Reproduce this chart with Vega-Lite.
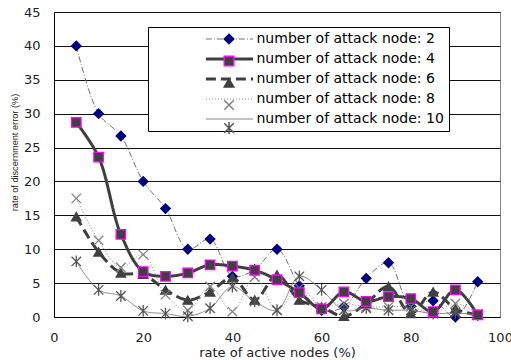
{
  "$schema": "https://vega.github.io/schema/vega-lite/v6.json",
  "width": 446,
  "height": 305,
  "autosize": {"type": "none"},
  "padding": {"left": 54, "top": 12, "right": 11, "bottom": 43},
  "background": "white",
  "config": {"view": {"stroke": "#888888", "strokeWidth": 1}, "font": "DejaVu Sans"},
  "data": {"values": [
    {"x":5,"y":40,"n":2,"series":"number of attack node: 2"},
    {"x":10,"y":30,"n":2,"series":"number of attack node: 2"},
    {"x":15,"y":26.7,"n":2,"series":"number of attack node: 2"},
    {"x":20,"y":20,"n":2,"series":"number of attack node: 2"},
    {"x":25,"y":16,"n":2,"series":"number of attack node: 2"},
    {"x":30,"y":10,"n":2,"series":"number of attack node: 2"},
    {"x":35,"y":11.5,"n":2,"series":"number of attack node: 2"},
    {"x":40,"y":6,"n":2,"series":"number of attack node: 2"},
    {"x":45,"y":7,"n":2,"series":"number of attack node: 2"},
    {"x":50,"y":10,"n":2,"series":"number of attack node: 2"},
    {"x":55,"y":4.6,"n":2,"series":"number of attack node: 2"},
    {"x":60,"y":1.0,"n":2,"series":"number of attack node: 2"},
    {"x":65,"y":1.5,"n":2,"series":"number of attack node: 2"},
    {"x":70,"y":5.7,"n":2,"series":"number of attack node: 2"},
    {"x":75,"y":8,"n":2,"series":"number of attack node: 2"},
    {"x":80,"y":1.6,"n":2,"series":"number of attack node: 2"},
    {"x":85,"y":2.4,"n":2,"series":"number of attack node: 2"},
    {"x":90,"y":0,"n":2,"series":"number of attack node: 2"},
    {"x":95,"y":5.2,"n":2,"series":"number of attack node: 2"},
    {"x":5,"y":14.8,"n":6,"series":"number of attack node: 6"},
    {"x":10,"y":9.6,"n":6,"series":"number of attack node: 6"},
    {"x":15,"y":6.5,"n":6,"series":"number of attack node: 6"},
    {"x":20,"y":6.3,"n":6,"series":"number of attack node: 6"},
    {"x":25,"y":4.0,"n":6,"series":"number of attack node: 6"},
    {"x":30,"y":2.5,"n":6,"series":"number of attack node: 6"},
    {"x":35,"y":3.7,"n":6,"series":"number of attack node: 6"},
    {"x":40,"y":5.8,"n":6,"series":"number of attack node: 6"},
    {"x":45,"y":2.5,"n":6,"series":"number of attack node: 6"},
    {"x":50,"y":6.2,"n":6,"series":"number of attack node: 6"},
    {"x":55,"y":2.5,"n":6,"series":"number of attack node: 6"},
    {"x":60,"y":1.5,"n":6,"series":"number of attack node: 6"},
    {"x":65,"y":0.1,"n":6,"series":"number of attack node: 6"},
    {"x":70,"y":2.0,"n":6,"series":"number of attack node: 6"},
    {"x":75,"y":4.5,"n":6,"series":"number of attack node: 6"},
    {"x":80,"y":0.5,"n":6,"series":"number of attack node: 6"},
    {"x":85,"y":3.7,"n":6,"series":"number of attack node: 6"},
    {"x":90,"y":1.2,"n":6,"series":"number of attack node: 6"},
    {"x":95,"y":0.3,"n":6,"series":"number of attack node: 6"},
    {"x":5,"y":17.5,"n":8,"series":"number of attack node: 8"},
    {"x":10,"y":11.3,"n":8,"series":"number of attack node: 8"},
    {"x":15,"y":7.3,"n":8,"series":"number of attack node: 8"},
    {"x":20,"y":9.2,"n":8,"series":"number of attack node: 8"},
    {"x":25,"y":3.3,"n":8,"series":"number of attack node: 8"},
    {"x":30,"y":1.0,"n":8,"series":"number of attack node: 8"},
    {"x":35,"y":4.5,"n":8,"series":"number of attack node: 8"},
    {"x":40,"y":0.8,"n":8,"series":"number of attack node: 8"},
    {"x":45,"y":5.9,"n":8,"series":"number of attack node: 8"},
    {"x":50,"y":1.0,"n":8,"series":"number of attack node: 8"},
    {"x":55,"y":4.3,"n":8,"series":"number of attack node: 8"},
    {"x":60,"y":1.5,"n":8,"series":"number of attack node: 8"},
    {"x":65,"y":2.0,"n":8,"series":"number of attack node: 8"},
    {"x":70,"y":1.5,"n":8,"series":"number of attack node: 8"},
    {"x":75,"y":1.5,"n":8,"series":"number of attack node: 8"},
    {"x":80,"y":1.5,"n":8,"series":"number of attack node: 8"},
    {"x":85,"y":0.6,"n":8,"series":"number of attack node: 8"},
    {"x":90,"y":2.0,"n":8,"series":"number of attack node: 8"},
    {"x":95,"y":0.5,"n":8,"series":"number of attack node: 8"},
    {"x":5,"y":8.2,"n":10,"series":"number of attack node: 10"},
    {"x":10,"y":4.0,"n":10,"series":"number of attack node: 10"},
    {"x":15,"y":3.1,"n":10,"series":"number of attack node: 10"},
    {"x":20,"y":0.9,"n":10,"series":"number of attack node: 10"},
    {"x":25,"y":0.5,"n":10,"series":"number of attack node: 10"},
    {"x":30,"y":0.1,"n":10,"series":"number of attack node: 10"},
    {"x":35,"y":1.3,"n":10,"series":"number of attack node: 10"},
    {"x":40,"y":4.5,"n":10,"series":"number of attack node: 10"},
    {"x":45,"y":2.3,"n":10,"series":"number of attack node: 10"},
    {"x":50,"y":1.0,"n":10,"series":"number of attack node: 10"},
    {"x":55,"y":6.0,"n":10,"series":"number of attack node: 10"},
    {"x":60,"y":4.0,"n":10,"series":"number of attack node: 10"},
    {"x":65,"y":1.0,"n":10,"series":"number of attack node: 10"},
    {"x":70,"y":1.3,"n":10,"series":"number of attack node: 10"},
    {"x":75,"y":1.0,"n":10,"series":"number of attack node: 10"},
    {"x":80,"y":1.0,"n":10,"series":"number of attack node: 10"},
    {"x":85,"y":0.5,"n":10,"series":"number of attack node: 10"},
    {"x":90,"y":0.6,"n":10,"series":"number of attack node: 10"},
    {"x":95,"y":0.3,"n":10,"series":"number of attack node: 10"},
    {"x":5,"y":28.7,"n":4,"series":"number of attack node: 4"},
    {"x":10,"y":23.6,"n":4,"series":"number of attack node: 4"},
    {"x":15,"y":12.2,"n":4,"series":"number of attack node: 4"},
    {"x":20,"y":6.7,"n":4,"series":"number of attack node: 4"},
    {"x":25,"y":6.0,"n":4,"series":"number of attack node: 4"},
    {"x":30,"y":6.5,"n":4,"series":"number of attack node: 4"},
    {"x":35,"y":7.7,"n":4,"series":"number of attack node: 4"},
    {"x":40,"y":7.5,"n":4,"series":"number of attack node: 4"},
    {"x":45,"y":6.9,"n":4,"series":"number of attack node: 4"},
    {"x":50,"y":5.5,"n":4,"series":"number of attack node: 4"},
    {"x":55,"y":3.6,"n":4,"series":"number of attack node: 4"},
    {"x":60,"y":1.2,"n":4,"series":"number of attack node: 4"},
    {"x":65,"y":3.7,"n":4,"series":"number of attack node: 4"},
    {"x":70,"y":2.3,"n":4,"series":"number of attack node: 4"},
    {"x":75,"y":3.0,"n":4,"series":"number of attack node: 4"},
    {"x":80,"y":2.7,"n":4,"series":"number of attack node: 4"},
    {"x":85,"y":0.8,"n":4,"series":"number of attack node: 4"},
    {"x":90,"y":4.0,"n":4,"series":"number of attack node: 4"},
    {"x":95,"y":0.3,"n":4,"series":"number of attack node: 4"}
  ]},
  "encoding": {
    "x": {"field": "x", "type": "quantitative",
      "scale": {"domain": [0, 100], "nice": false},
      "axis": {"values": [0, 20, 40, 60, 80, 100], "grid": false, "ticks": false, "tickSize": 0,
        "labelPadding": 14, "labelFontSize": 13, "labelFont": "DejaVu Sans", "labelColor": "#222",
        "labelFlush": false, "labelOverlap": false, "domainColor": "#000", "domainWidth": 1,
        "title": "rate of active nodes (%)", "titleFont": "DejaVu Sans", "titleFontSize": 13,
        "titleFontWeight": "normal", "titleColor": "#222", "titlePadding": 2}},
    "y": {"field": "y", "type": "quantitative",
      "scale": {"domain": [0, 45], "nice": false},
      "axis": {"values": [0, 5, 10, 15, 20, 25, 30, 35, 40, 45], "grid": true, "gridColor": "#111",
        "gridWidth": 1, "ticks": false, "tickSize": 0, "labelPadding": 14, "labelFontSize": 13,
        "labelFont": "DejaVu Sans", "labelColor": "#222", "labelFlush": false, "labelOverlap": false,
        "domainColor": "#000", "domainWidth": 1,
        "title": "rate of discernment error (%)", "titleFont": "Liberation Sans", "titleFontSize": 9.2,
        "titleFontWeight": "normal", "titleColor": "#222", "titlePadding": 4, "titleY": 140}}
  },
  "layer": [
    {
      "mark": {"type": "line", "interpolate": "catmull-rom"},
      "encoding": {
        "color": {"field": "series", "type": "nominal",
          "scale": {"domain": ["number of attack node: 2", "number of attack node: 4", "number of attack node: 6", "number of attack node: 8", "number of attack node: 10"],
            "range": ["#707070", "#3f3f3f", "#3f3f3f", "#8a8a8a", "#808080"]},
          "legend": {"orient": "none", "legendX": 94, "legendY": 15, "title": null,
            "symbolType": "M-5.9,0H5.9", "symbolSize": 64, "symbolOffset": 69.5, "labelOffset": 20,
            "labelFont": "DejaVu Sans", "labelFontSize": 14, "labelColor": "#000", "labelLimit": 500,
            "labelExpr": "datum.label + '         '",
            "padding": 5, "rowPadding": 6, "strokeColor": "#000", "fillColor": "#fff", "zindex": 1}},
        "strokeDash": {"field": "series", "type": "nominal",
          "scale": {"domain": ["number of attack node: 2", "number of attack node: 4", "number of attack node: 6", "number of attack node: 8", "number of attack node: 10"],
            "range": [[6, 2, 1, 2], [1, 0], [10, 5], [1, 2], [1, 0]]}},
        "strokeWidth": {"field": "series", "type": "nominal",
          "scale": {"type": "ordinal", "domain": ["number of attack node: 2", "number of attack node: 4", "number of attack node: 6", "number of attack node: 8", "number of attack node: 10"],
            "range": [1, 3, 3, 1, 1]}}
      }
    },
    {
      "mark": {"type": "point", "filled": true, "opacity": 1, "strokeWidth": 1.3, "size": 90},
      "encoding": {
        "shape": {"field": "n", "type": "nominal",
          "scale": {"domain": [2, 4, 6, 8, 10],
            "range": ["diamond", "square", "triangle-up", "M-1,-1L1,1M-1,1L1,-1", "M-1,-1L1,1M-1,1L1,-1M0,-1.25L0,1.25"]},
          "legend": {"orient": "none", "legendX": 94, "legendY": 15, "title": null,
            "symbolSize": 90, "symbolOffset": 69, "labelOffset": 20,
            "labelFont": "DejaVu Sans", "labelFontSize": 14, "labelOpacity": 0, "labelLimit": 500,
            "labelExpr": "' '",
            "padding": 5, "rowPadding": 6, "zindex": 2}},
        "fill": {"field": "n", "type": "nominal",
          "scale": {"domain": [2, 4, 6, 8, 10], "range": ["#000080", "#404040", "#404040", "transparent", "transparent"]}},
        "stroke": {"field": "n", "type": "nominal",
          "scale": {"domain": [2, 4, 6, 8, 10], "range": ["#000080", "#ff00ff", "#404040", "#808080", "#555555"]}}
      }
    }
  ]
}
